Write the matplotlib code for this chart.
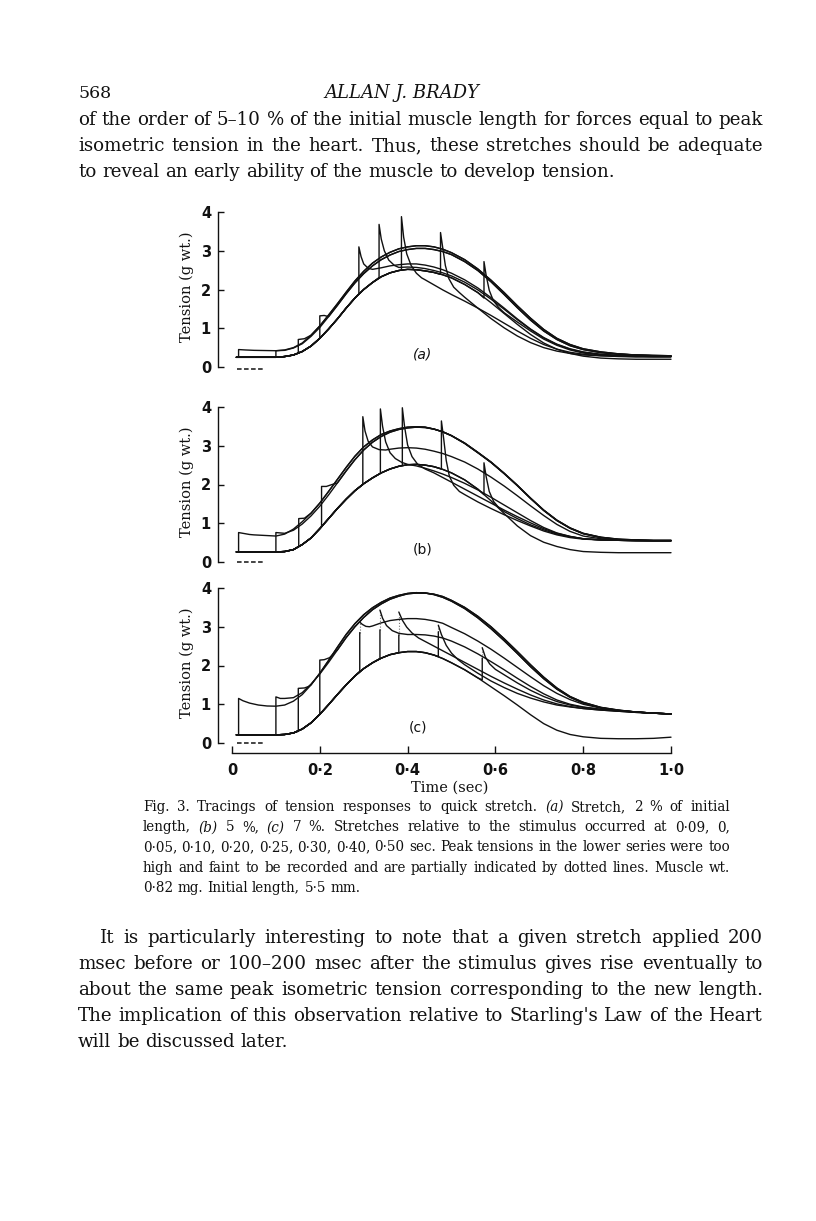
import matplotlib
matplotlib.use('Agg')
import matplotlib.pyplot as plt
import numpy as np

W, H = 816, 1221
X0, XS, YS = 232, 439, 38.75   # px of t=0, px per sec, px per g

# common time base of the traced curves (sec)
t_env = [0.01, 0.05, 0.10, 0.12, 0.14, 0.16, 0.18, 0.20, 0.22, 0.24,
         0.26, 0.28, 0.30, 0.32, 0.34, 0.36, 0.38, 0.40, 0.42, 0.44,
         0.46, 0.48, 0.50, 0.53, 0.56, 0.59, 0.62, 0.65, 0.68, 0.71,
         0.74, 0.77, 0.80, 0.84, 0.88, 0.92, 0.96, 1.00]
# shorter curves are aligned to the end of t_env

# ---- panel (a), 2 % stretch
a_low = [.25, .25, .25, .27, .31, .40, .54, .74, .98, 1.24,
         1.52, 1.78, 2.00, 2.18, 2.33, 2.43, 2.49, 2.52, 2.51, 2.48,
         2.44, 2.38, 2.30, 2.13, 1.92, 1.66, 1.38, 1.10, .84, .62,
         .46, .35, .28, .23, .21, .20, .20, .20]
a_hi1 = [.45, .43, .42, .44, .50, .62, .82, 1.06, 1.34, 1.63,
         1.93, 2.22, 2.47, 2.68, 2.84, 2.96, 3.05, 3.10, 3.13, 3.13,
         3.10, 3.04, 2.95, 2.77, 2.53, 2.24, 1.92, 1.58, 1.26, .97,
         .74, .58, .47, .39, .34, .31, .30, .29]
a_hi2 = [.43, .49, .60, .79, 1.02, 1.30, 1.59,
         1.89, 2.17, 2.41, 2.61, 2.77, 2.89, 2.98, 3.03, 3.06, 3.06,
         3.03, 2.98, 2.90, 2.72, 2.49, 2.20, 1.87, 1.53, 1.21, .93,
         .71, .55, .45, .37, .33, .31, .29, .28]
a_mid1 = [2.52, 2.56, 2.61, 2.64, 2.66, 2.66, 2.63,
          2.58, 2.51, 2.42, 2.25, 2.04, 1.79, 1.52, 1.24, .98, .76,
          .59, .47, .39, .33, .30, .29, .28, .28]
a_mid2 = [2.57, 2.58, 2.57, 2.54,
          2.49, 2.43, 2.35, 2.19, 1.99, 1.75, 1.49, 1.22, .97, .75,
          .58, .46, .38, .32, .29, .28, .27, .27]
a_sag1 = [2.25,
          2.12, 1.99, 1.87, 1.70, 1.52, 1.33, 1.13, .93, .74, .58,
          .46, .38, .33, .29, .27, .26, .26, .26]
a_sag2 = [1.80, 1.52, 1.25, 1.01, .80, .63, .50,
          .41, .35, .31, .29, .28, .27, .27, .27]
a_sag3 = [1.40, 1.16, .93, .72,
          .56, .44, .36, .31, .29, .28, .27, .27]
a_ts = [0.015, 0.10, 0.151, 0.20, 0.289, 0.335, 0.386, 0.475, 0.574]
a_from = [.25, .25, .36, .74, 1.89, 2.31, 2.50, 2.39, 1.78]
a_decay = [[(0.015, .45), (0.03, .44)],
           [(0.10, .42)],
           [(0.151, .71), (0.165, .73)],
           [(0.20, 1.32), (0.21, 1.33)],
           [(0.289, 3.10), (0.294, 2.85), (0.30, 2.66), (0.31, 2.55)],
           [(0.335, 3.68), (0.34, 3.30), (0.347, 3.00), (0.357, 2.76), (0.37, 2.62)],
           [(0.386, 3.88), (0.391, 3.35), (0.398, 2.92), (0.408, 2.62), (0.42, 2.42), (0.432, 2.30)],
           [(0.475, 3.47), (0.48, 3.08), (0.486, 2.62), (0.494, 2.28), (0.505, 2.06), (0.518, 1.92)],
           [(0.574, 2.72), (0.579, 2.36), (0.586, 1.98), (0.595, 1.72), (0.607, 1.54)]]
a_then = [a_hi1, a_hi2, a_hi1, a_hi2, a_mid1, a_mid2, a_sag1, a_sag2, a_sag3]

# ---- panel (b), 5 % stretch
b_low = [.26, .26, .26, .27, .32, .45, .62, .86, 1.12, 1.38,
         1.62, 1.84, 2.02, 2.17, 2.30, 2.40, 2.47, 2.51, 2.52, 2.50,
         2.46, 2.39, 2.30, 2.12, 1.88, 1.58, 1.25, .93, .68, .51,
         .40, .32, .27, .25, .24, .24, .24, .24]
b_hi1 = [.76, .70, .67, .72, .85, 1.04, 1.26, 1.52, 1.82, 2.13,
         2.44, 2.73, 2.97, 3.15, 3.29, 3.38, 3.44, 3.48, 3.49, 3.48,
         3.43, 3.36, 3.26, 3.06, 2.82, 2.57, 2.28, 1.97, 1.64, 1.33,
         1.07, .87, .73, .63, .58, .56, .55, .55]
b_hi2 = [.74, .82, .98, 1.19, 1.44, 1.73, 2.04,
         2.35, 2.64, 2.89, 3.09, 3.24, 3.35, 3.42, 3.46, 3.48, 3.47,
         3.43, 3.36, 3.26, 3.07, 2.83, 2.58, 2.29, 1.98, 1.65, 1.34,
         1.08, .88, .74, .64, .59, .57, .56, .56]
b_mid = [2.91, 2.94, 2.95, 2.94, 2.91,
         2.86, 2.80, 2.72, 2.58, 2.40, 2.19, 1.96, 1.71, 1.45, 1.20,
         .97, .79, .67, .60, .57, .56, .55, .55]
b_sag1 = [2.52, 2.48, 2.42,
          2.35, 2.27, 2.18, 2.03, 1.86, 1.67, 1.47, 1.27, 1.07, .89,
          .75, .66, .60, .57, .56, .55, .55, .55]
b_sag2 = [2.30, 2.18, 2.06, 1.88, 1.70, 1.52, 1.34, 1.17, 1.01, .86,
          .74, .66, .60, .57, .56, .55, .55, .55]
b_sag3 = [1.74, 1.55, 1.38, 1.22, 1.07, .93, .80,
          .70, .63, .59, .57, .56, .55, .55, .55]
b_sag4 = [1.30, 1.12, .96, .83,
          .72, .65, .60, .57, .56, .55, .55, .55]
b_ts = [0.015, 0.10, 0.152, 0.204, 0.298, 0.338, 0.388, 0.477, 0.574]
b_from = [.26, .26, .40, .91, 2.00, 2.29, 2.49, 2.40, 1.74]
b_decay = [[(0.015, .76), (0.04, .71)],
           [(0.10, .76)],
           [(0.152, 1.12), (0.165, 1.13)],
           [(0.204, 1.95), (0.215, 1.95), (0.228, 2.00)],
           [(0.298, 3.75), (0.303, 3.38), (0.31, 3.12), (0.32, 2.97), (0.335, 2.90), (0.35, 2.89)],
           [(0.338, 3.95), (0.343, 3.50), (0.35, 3.10), (0.36, 2.82), (0.372, 2.67), (0.387, 2.57)],
           [(0.388, 3.98), (0.393, 3.50), (0.40, 3.02), (0.41, 2.72), (0.423, 2.52), (0.44, 2.40)],
           [(0.477, 3.64), (0.482, 3.20), (0.488, 2.62), (0.495, 2.22), (0.505, 1.98), (0.518, 1.82)],
           [(0.574, 2.56), (0.579, 2.20), (0.586, 1.82), (0.596, 1.56), (0.608, 1.40)]]
b_then = [b_hi1, b_hi2, b_hi1, b_hi2, b_mid, b_sag1, b_sag2, b_sag3, b_sag4]

# ---- panel (c), 7 % stretch (tops above c_top only dotted)
c_low = [.21, .21, .21, .22, .26, .36, .52, .74, .99, 1.25,
         1.50, 1.73, 1.92, 2.07, 2.19, 2.28, 2.33, 2.36, 2.36, 2.33,
         2.27, 2.18, 2.07, 1.89, 1.68, 1.45, 1.22, .98, .73, .50,
         .33, .22, .16, .12, .11, .11, .12, .15]
c_hi1 = [.95, .98, 1.08, 1.25, 1.50, 1.80, 2.13, 2.47,
         2.80, 3.08, 3.31, 3.49, 3.63, 3.74, 3.81, 3.86, 3.88, 3.87,
         3.83, 3.76, 3.66, 3.47, 3.23, 2.95, 2.64, 2.31, 1.97, 1.66,
         1.39, 1.18, 1.03, .91, .84, .80, .77, .75]
c_hi2 = [1.15, 1.17, 1.30, 1.52, 1.78, 2.08, 2.40,
         2.72, 3.00, 3.24, 3.44, 3.59, 3.71, 3.79, 3.85, 3.87, 3.87,
         3.84, 3.78, 3.68, 3.50, 3.27, 3.00, 2.69, 2.36, 2.02, 1.70,
         1.42, 1.20, 1.05, .92, .85, .80, .77, .75]
c_mid = [3.02, 3.10, 3.16, 3.19, 3.21, 3.21, 3.19,
         3.15, 3.09, 2.98, 2.82, 2.63, 2.42, 2.19, 1.95, 1.71, 1.48,
         1.28, 1.12, 1.00, .90, .84, .80, .77, .75]
c_sag1 = [2.80, 2.80, 2.79,
          2.76, 2.71, 2.63, 2.48, 2.30, 2.10, 1.89, 1.67, 1.46, 1.27,
          1.11, 1.00, .93, .87, .83, .80, .77, .75]
c_sag2 = [2.62,
          2.50, 2.38, 2.26, 2.08, 1.90, 1.72, 1.55, 1.39, 1.24, 1.11,
          1.01, .94, .89, .85, .82, .79, .77, .75]
c_sag3 = [2.02, 1.80, 1.60, 1.43, 1.28, 1.16, 1.06,
          .98, .93, .89, .85, .82, .79, .77, .75]
c_sag4 = [1.76, 1.55, 1.36, 1.20,
          1.07, .98, .92, .87, .83, .80, .77, .75]
c_ts = [0.015, 0.10, 0.151, 0.20, 0.291, 0.337, 0.38, 0.47, 0.57]
c_from = [.21, .21, .30, .74, 1.85, 2.18, 2.33, 2.23, 1.63]
c_top = [1.15, 1.19, 1.41, 2.14, 2.85, 2.92, 2.79, 2.87, 2.19]
c_decay = [[(0.015, 1.15), (0.025, 1.09), (0.04, 1.03), (0.06, .98), (0.08, .955)],
           [(0.10, 1.19), (0.11, 1.15)],
           [(0.151, 1.41), (0.165, 1.42), (0.175, 1.46)],
           [(0.20, 2.14), (0.21, 2.15), (0.222, 2.20)],
           [(0.291, 3.12), (0.297, 3.06), (0.305, 3.01), (0.313, 3.00)],
           [(0.337, 3.43), (0.343, 3.22), (0.352, 3.03), (0.365, 2.90), (0.38, 2.83)],
           [(0.38, 3.38), (0.388, 3.17), (0.398, 2.99), (0.41, 2.84), (0.425, 2.71)],
           [(0.47, 3.04), (0.477, 2.80), (0.488, 2.52), (0.50, 2.32), (0.515, 2.15)],
           [(0.57, 2.46), (0.577, 2.22), (0.587, 2.04), (0.60, 1.90)]]
c_then = [c_hi1, c_hi2, c_hi1, c_hi2, c_mid, c_sag1, c_sag2, c_sag3, c_sag4]

x_ticks = [0, 0.2, 0.4, 0.6, 0.8, 1.0]
x_ticklabels = ['0', '0·2', '0·4', '0·6', '0·8', '1·0']
dash_t = [0.012, 0.075]

INK = '#111111'
SERIF = 'DejaVu Serif'
line_kw = dict(color=INK, lw=1.0, solid_joinstyle='round', solid_capstyle='round')

fig = plt.figure(figsize=(W / 100, H / 100), dpi=100)
fig.patch.set_facecolor('white')


def make_axes(y0, top, bottom, left=150, right=700):
    # y0 = pixel row of zero tension
    ax = fig.add_axes([left / W, 1 - bottom / H, (right - left) / W, (bottom - top) / H])
    ax.set_xlim((left - X0) / XS, (right - X0) / XS)
    ax.set_ylim((y0 - bottom) / YS, (y0 - top) / YS)
    ax.patch.set_visible(False)
    for s in ['top', 'right', 'bottom']:
        ax.spines[s].set_visible(False)
    ax.spines['left'].set_position(('data', (218 - X0) / XS))
    ax.spines['left'].set_bounds(0, 4)
    ax.spines['left'].set_linewidth(1.0)
    ax.spines['left'].set_color(INK)
    ax.set_yticks([0, 1, 2, 3, 4])
    ax.tick_params(axis='y', direction='in', length=4.5, width=1.0, pad=5,
                   labelsize=10.5, colors=INK)
    for lab in ax.get_yticklabels():
        lab.set_fontweight('bold')
    ax.set_xticks([])
    ax.text((187 - X0) / XS, 2.07, 'Tension (g wt.)', rotation=90, ha='center',
            va='center', family=SERIF, fontsize=10.5, color=INK)
    return ax


def draw_panel(ax, low, ts_list, from_list, decays, thens, tops=None):
    ax.plot(t_env, low, **line_kw)
    for i, ts in enumerate(ts_list):
        dec = decays[i]
        env = thens[i]
        env_t = t_env[-len(env):]
        pre_t = [t for t in t_env if t < ts]
        pre_y = low[:len(pre_t)]
        dt = [p[0] for p in dec]
        dy = [p[1] for p in dec]
        post_t = [t for t in env_t if t > dt[-1] + 1e-9]
        post_y = list(env[len(env) - len(post_t):])
        top = dy[0] if tops is None else tops[i]
        if top < dy[0] - 1e-6:
            # peak too faint: solid part, then dotted to the peak
            xs = pre_t + [ts, ts, np.nan] + dt + post_t
            ys = pre_y + [from_list[i], top, np.nan] + dy + post_y
            ax.plot([ts, ts], [top, dy[0]], color='0.45', lw=0.8, linestyle=(0, (1, 1.6)))
        else:
            xs = pre_t + [ts] + dt + post_t
            ys = pre_y + [from_list[i]] + dy + post_y
        ax.plot(xs, ys, **line_kw)


ax_a = make_axes(367, 195, 392)
draw_panel(ax_a, a_low, a_ts, a_from, a_decay, a_then)
ax_a.plot(dash_t, [-0.04, -0.04], color=INK, lw=1.1, linestyle=(0, (3, 1.6)))
ax_a.text(0.435, 0.31, '(a)', ha='center', va='center', fontsize=10, style='italic', color=INK)

ax_b = make_axes(562, 392, 585)
draw_panel(ax_b, b_low, b_ts, b_from, b_decay, b_then)
ax_b.plot(dash_t, [-0.01, -0.01], color=INK, lw=1.1, linestyle=(0, (3, 1.6)))
ax_b.text(0.435, 0.31, '(b)', ha='center', va='center', fontsize=10, color=INK)

ax_c = make_axes(743, 585, 800)
draw_panel(ax_c, c_low, c_ts, c_from, c_decay, c_then, tops=c_top)
ax_c.plot(dash_t, [-0.01, -0.01], color=INK, lw=1.1, linestyle=(0, (3, 1.6)))
ax_c.text(0.424, 0.39, '(c)', ha='center', va='center', fontsize=10, color=INK)
ax_c.spines['bottom'].set_visible(True)
ax_c.spines['bottom'].set_position(('data', (743 - 753) / YS))
ax_c.spines['bottom'].set_bounds(0, 1)
ax_c.spines['bottom'].set_linewidth(1.0)
ax_c.spines['bottom'].set_color(INK)
ax_c.set_xticks(x_ticks)
ax_c.set_xticklabels(x_ticklabels)
ax_c.tick_params(axis='x', direction='in', length=5, width=1.0, pad=7, labelsize=10.5, colors=INK)
for lab in ax_c.get_xticklabels():
    lab.set_fontweight('bold')

fig.text(450 / W, 1 - 788 / H, 'Time (sec)', ha='center', va='center',
         family=SERIF, fontsize=10.5, color=INK)

# ---- page text
renderer = fig.canvas.get_renderer()
ITALIC_WORDS = ['(a)', '(b)', '(c)']


def natural_width(line, size):
    t = fig.text(0, 0, line, fontsize=size, family=SERIF)
    w = t.get_window_extent(renderer).width
    t.remove()
    return w


def fit_size(lines, spans, size=12):
    # largest size at which every justified line still fits its measure
    return min(size * span / natural_width(line, size) for line, span in zip(lines, spans))


def put_line(line, x0, x1, base, size, justify=True):
    words = line.split()
    texts = []
    for w in words:
        st = 'italic' if w.rstrip(',') in ITALIC_WORDS else 'normal'
        texts.append(fig.text(0, 1 - base / H, w, fontsize=size, family=SERIF,
                              style=st, va='baseline', ha='left', color=INK))
    widths = [t.get_window_extent(renderer).width for t in texts]
    if justify and len(words) > 1:
        gap = (x1 - x0 - sum(widths)) / (len(words) - 1)
    else:
        gap = natural_width('a a', size) - natural_width('aa', size)
    x = x0
    for t, w in zip(texts, widths):
        t.set_x(x / W)
        x += w + gap


fig.text(78 / W, 1 - 98 / H, '568', fontsize=12.5, family=SERIF, va='baseline', color=INK)
fig.text(402 / W, 1 - 98 / H, 'ALLAN J. BRADY', fontsize=13, family=SERIF,
         style='italic', ha='center', va='baseline', color=INK)

para1 = ['of the order of 5–10 % of the initial muscle length for forces equal to peak',
         'isometric tension in the heart. Thus, these stretches should be adequate',
         'to reveal an early ability of the muscle to develop tension.']
para2 = ['It is particularly interesting to note that a given stretch applied 200',
         'msec before or 100–200 msec after the stimulus gives rise eventually to',
         'about the same peak isometric tension corresponding to the new length.',
         "The implication of this observation relative to Starling's Law of the Heart",
         'will be discussed later.']
caption = ['Fig. 3.  Tracings of tension responses to quick stretch. (a) Stretch, 2 % of initial',
           'length, (b) 5 %, (c) 7 %. Stretches relative to the stimulus occurred at 0·09, 0,',
           '0·05, 0·10, 0·20, 0·25, 0·30, 0·40, 0·50 sec. Peak tensions in the lower series were too',
           'high and faint to be recorded and are partially indicated by dotted lines. Muscle wt.',
           '0·82 mg. Initial length, 5·5 mm.']

body_size = fit_size(para1[:2] + para2[:4], [685, 685, 663, 685, 685, 685])
cap_size = fit_size(caption[:4], [587] * 4, 9)

for i, line in enumerate(para1):
    put_line(line, 78, 763, 125 + 26 * i, body_size, justify=(i < 2))

for i, line in enumerate(caption):
    put_line(line, 143, 730, 811 + 20.2 * i, cap_size, justify=(i < 4))

for i, line in enumerate(para2):
    put_line(line, 100 if i == 0 else 78, 763, 943 + 26 * i, body_size, justify=(i < 4))

fig.savefig('out.png', dpi=100, facecolor='white')
